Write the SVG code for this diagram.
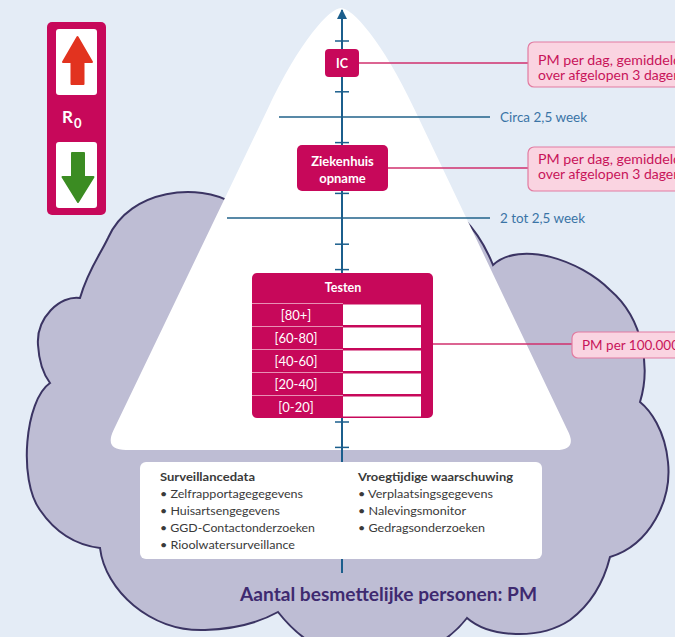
<svg xmlns="http://www.w3.org/2000/svg" width="675" height="637" viewBox="0 0 675 637">
<defs>
<style>
.t{font-family:Lato,"Open Sans","Liberation Sans",sans-serif}
.wk{font-family:Lato,"Liberation Sans",sans-serif;font-size:13px;fill:#3a74a6}
.pk{font-family:Lato,"Liberation Sans",sans-serif;font-size:12.5px;fill:#c8145a}
.nb{font-family:Lato,"Liberation Sans",sans-serif;font-weight:bold;fill:#ffffff;text-anchor:middle}
.bx{font-family:Lato,"Liberation Sans",sans-serif;font-size:11.5px;fill:#3a3a3a}
.mag{fill:#c7085a}
.pbox{fill:#fad4e1;stroke:#e27ba1;stroke-width:1.2}
.conn{stroke:#d0306e;stroke-width:1.5;fill:none}
.wline{stroke:#21628a;stroke-width:1.5}
.tick{stroke:#1b5e8c;stroke-width:1.5}
</style>
<marker id="ah" viewBox="0 0 10 10" refX="9" refY="5" markerWidth="5" markerHeight="5" orient="auto-start-reverse">
<path d="M0,0 L10,5 L0,10 z" fill="#1b5e8c"/>
</marker>
</defs>
<rect x="0" y="0" width="675" height="637" fill="#e4ecf6"/>

<g id="cloud">
<path d="M341,300 L232,203 C200,183 130,188 108,238 C100,255 88,270 80,298 C60,295 36,318 38,345 C39,362 44,375 50,383 C25,400 18,480 40,510 C55,532 75,545 100,548 C105,590 150,632 205,630 C235,629 260,622 278,612 C300,640 330,660 372,660 C420,660 450,640 467,618 C490,638 540,640 570,620 C590,605 603,585 610,557 C650,545 672,500 668,462 C665,430 650,410 640,402 C650,370 645,320 610,290 C580,260 520,240 493,265 C485,245 475,230 463,218 Z" fill="#bebdd4" stroke="#3b3463" stroke-width="2" stroke-linejoin="miter"/>
</g>

<g id="pyramid">
<path d="M267.2,110 C300,40 330,8 341,8 C352,8 382,40 414.8,110 L567.4,430 Q578,450 556,450 L126,450 Q104,450 113.6,430 Z" fill="#ffffff"/>
</g>

<g id="week-lines">
<line class="wline" x1="279" y1="117" x2="490" y2="117"/>
<line class="wline" x1="227" y1="218" x2="490" y2="218"/>
<text class="wk" x="500" y="121.5" textLength="87" lengthAdjust="spacingAndGlyphs">Circa 2,5 week</text>
<text class="wk" x="500" y="222.5" textLength="85" lengthAdjust="spacingAndGlyphs">2 tot 2,5 week</text>
</g>

<g id="axis">
<line x1="342" y1="573" x2="342" y2="10" stroke="#1b5e8c" stroke-width="2" marker-end="url(#ah)"/>
<g class="tick">
<line x1="335" y1="41" x2="349" y2="41"/>
<line x1="335" y1="66.4" x2="349" y2="66.4"/>
<line x1="335" y1="91.8" x2="349" y2="91.8"/>
<line x1="335" y1="142.6" x2="349" y2="142.6"/>
<line x1="335" y1="168" x2="349" y2="168"/>
<line x1="335" y1="193.4" x2="349" y2="193.4"/>
<line x1="335" y1="244.2" x2="349" y2="244.2"/>
<line x1="335" y1="269.6" x2="349" y2="269.6"/>
<line x1="335" y1="422" x2="349" y2="422"/>
<line x1="335" y1="447.4" x2="349" y2="447.4"/>
</g>
</g>

<g id="connectors">
<line class="conn" x1="359" y1="63" x2="528" y2="63"/>
<line class="conn" x1="388" y1="168" x2="528" y2="168"/>
<line class="conn" x1="433" y1="344" x2="572" y2="344"/>
</g>

<g id="r0">
<rect class="mag" x="47" y="22" width="59" height="193" rx="5"/>
<rect x="56" y="29" width="41" height="66" rx="3" fill="#ffffff"/>
<rect x="56" y="142" width="41" height="66" rx="3" fill="#ffffff"/>
<path d="M77.5,37 L92,62 L83.5,62 L83.5,84 L71.5,84 L71.5,62 L63,62 Z" fill="#e2331f" stroke="#e2331f" stroke-width="2" stroke-linejoin="round"/>
<path d="M78,202 L93.5,177 L84,177 L84,153 L72,153 L72,177 L62.5,177 Z" fill="#3b8c22" stroke="#3b8c22" stroke-width="2" stroke-linejoin="round"/>
<text class="nb" x="62" y="123" font-size="17" style="text-anchor:start">R<tspan font-size="13" dx="1" dy="5">0</tspan></text>
</g>

<g id="ic">
<rect class="mag" x="325" y="49" width="34" height="28" rx="4"/>
<text class="nb" x="342" y="67.5" font-size="12.5">IC</text>
</g>

<g id="ziekenhuis">
<rect class="mag" x="297" y="145" width="91" height="46" rx="5"/>
<text class="nb" x="342.5" y="166" font-size="13">Ziekenhuis</text>
<text class="nb" x="342.5" y="183" font-size="13">opname</text>
</g>

<g id="testen">
<rect class="mag" x="252" y="273" width="181" height="145" rx="5"/>
<g fill="#ffffff">
<rect x="343" y="304.5" width="78" height="20.5"/>
<rect x="343" y="327.5" width="78" height="20.5"/>
<rect x="343" y="350.5" width="78" height="20.5"/>
<rect x="343" y="373.5" width="78" height="20.5"/>
<rect x="343" y="396.5" width="78" height="20"/>
</g>
<g stroke="#e890b4" stroke-width="1">
<line x1="252" y1="303.5" x2="343" y2="303.5"/>
<line x1="252" y1="326.5" x2="343" y2="326.5"/>
<line x1="252" y1="349.5" x2="343" y2="349.5"/>
<line x1="252" y1="372.5" x2="343" y2="372.5"/>
<line x1="252" y1="395.5" x2="343" y2="395.5"/>
</g>
<text class="nb" x="343" y="292" font-size="12.5">Testen</text>
<g class="nb" font-size="13">
<text x="296" y="319.5" style="font-weight:normal">[80+]</text>
<text x="296" y="342.5" style="font-weight:normal">[60-80]</text>
<text x="296" y="365.5" style="font-weight:normal">[40-60]</text>
<text x="296" y="388.5" style="font-weight:normal">[20-40]</text>
<text x="296" y="411.5" style="font-weight:normal">[0-20]</text>
</g>
</g>

<g id="pm-ic">
<rect class="pbox" x="528" y="42" width="160" height="45" rx="6"/>
<text class="pk" x="538" y="64.5" textLength="143" lengthAdjust="spacingAndGlyphs">PM per dag, gemiddeld</text>
<text class="pk" x="538" y="79.5" textLength="143" lengthAdjust="spacingAndGlyphs">over afgelopen 3 dagen</text>
</g>

<g id="pm-ziekenhuis">
<rect class="pbox" x="528" y="147" width="160" height="44" rx="6"/>
<text class="pk" x="538" y="164" textLength="143" lengthAdjust="spacingAndGlyphs">PM per dag, gemiddeld</text>
<text class="pk" x="538" y="179" textLength="143" lengthAdjust="spacingAndGlyphs">over afgelopen 3 dagen</text>
</g>

<g id="pm-testen">
<rect class="pbox" x="572" y="332" width="120" height="26" rx="6"/>
<text class="pk" x="582" y="349.5" textLength="97" lengthAdjust="spacingAndGlyphs">PM per 100.000</text>
</g>

<g id="data-box">
<rect x="140" y="462" width="402" height="97" rx="6" fill="#ffffff"/>
<text class="bx" x="160" y="481" font-weight="bold" textLength="95" lengthAdjust="spacingAndGlyphs">Surveillancedata</text>
<text class="bx" x="160" y="498" textLength="143" lengthAdjust="spacingAndGlyphs">• Zelfrapportagegegevens</text>
<text class="bx" x="160" y="515" textLength="120" lengthAdjust="spacingAndGlyphs">• Huisartsengegevens</text>
<text class="bx" x="160" y="532" textLength="155" lengthAdjust="spacingAndGlyphs">• GGD-Contactonderzoeken</text>
<text class="bx" x="160" y="549" textLength="135" lengthAdjust="spacingAndGlyphs">• Rioolwatersurveillance</text>
<text class="bx" x="358" y="481" font-weight="bold" textLength="155" lengthAdjust="spacingAndGlyphs">Vroegtijdige waarschuwing</text>
<text class="bx" x="358" y="498" textLength="135" lengthAdjust="spacingAndGlyphs">• Verplaatsingsgegevens</text>
<text class="bx" x="358" y="515" textLength="108" lengthAdjust="spacingAndGlyphs">• Nalevingsmonitor</text>
<text class="bx" x="358" y="532" textLength="127" lengthAdjust="spacingAndGlyphs">• Gedragsonderzoeken</text>
</g>

<g id="besmettelijk">
<text class="t" x="240" y="601" font-size="18" font-weight="bold" fill="#3e2a70" textLength="297" lengthAdjust="spacingAndGlyphs">Aantal besmettelijke personen: PM</text>
</g>
</svg>
